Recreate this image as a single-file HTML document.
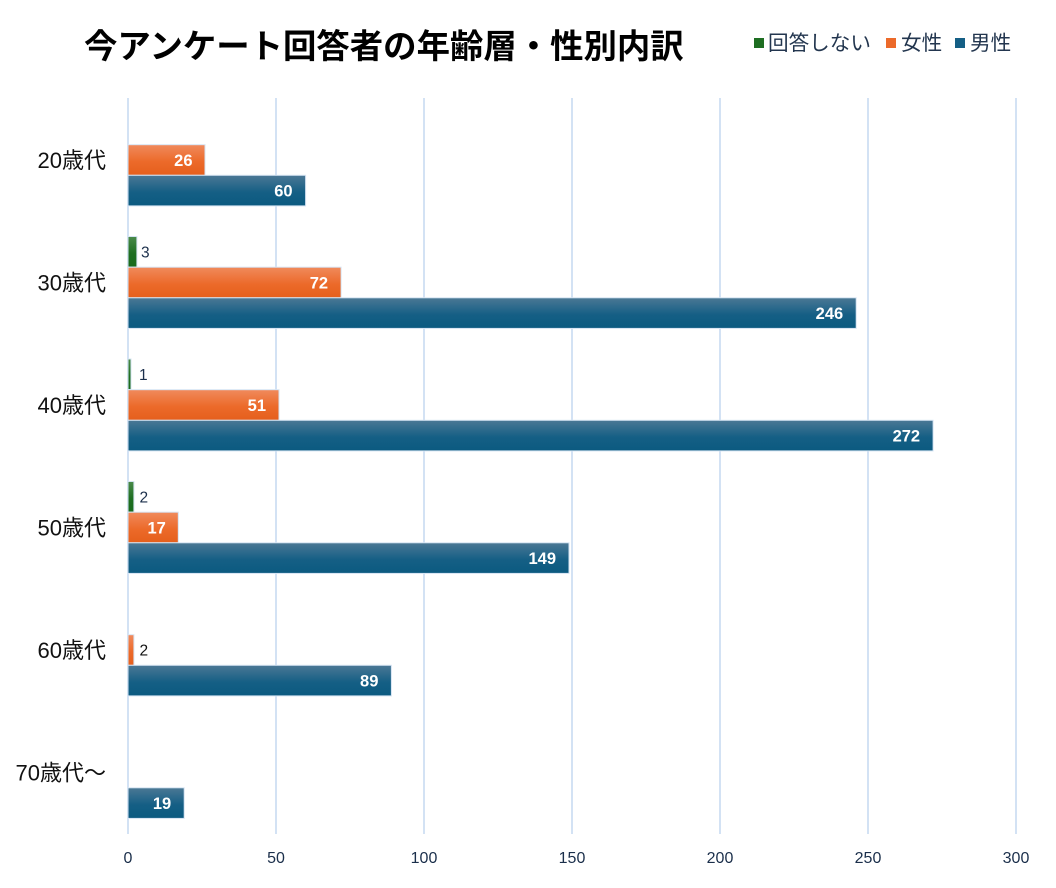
<!DOCTYPE html>
<html>
<head>
<meta charset="utf-8">
<style>
html,body{margin:0;padding:0;background:#fff;}
svg{display:block;}
</style>
</head>
<body>
<svg width="1056" height="888" viewBox="0 0 1056 888" xmlns="http://www.w3.org/2000/svg">
<defs>
<linearGradient id="gO" x1="0" y1="0" x2="0" y2="1">
<stop offset="0" stop-color="#f08a5c"/>
<stop offset="0.55" stop-color="#ec6a2a"/>
<stop offset="1" stop-color="#e55f1c"/>
</linearGradient>
<linearGradient id="gB" x1="0" y1="0" x2="0" y2="1">
<stop offset="0" stop-color="#4b7895"/>
<stop offset="0.55" stop-color="#155f85"/>
<stop offset="1" stop-color="#0b5a80"/>
</linearGradient>
<linearGradient id="gG" x1="0" y1="0" x2="0" y2="1">
<stop offset="0" stop-color="#4a8a4a"/>
<stop offset="0.55" stop-color="#1f6f22"/>
<stop offset="1" stop-color="#186a1c"/>
</linearGradient>
</defs>
<rect width="1056" height="888" fill="#fff"/>

<!-- Title -->
<text x="84" y="58" font-family="'Liberation Sans','Noto Sans CJK JP',sans-serif" font-size="33.4" font-weight="bold" fill="#000">今アンケート回答者の年齢層・性別内訳</text>

<!-- Legend -->
<g font-family="'Liberation Sans','Noto Sans CJK JP',sans-serif" font-size="20.6" fill="#23364f">
<rect x="754" y="38" width="10" height="10" fill="#1e6e22"/>
<text x="768" y="50">回答しない</text>
<rect x="886" y="38" width="10" height="10" fill="#ec6a2a"/>
<text x="901" y="50">女性</text>
<rect x="955" y="38" width="10" height="10" fill="#155f85"/>
<text x="970" y="50">男性</text>
</g>

<!-- Gridlines -->
<g stroke="#d3e2f4" stroke-width="2">
<line x1="128" y1="98" x2="128" y2="834"/>
<line x1="276" y1="98" x2="276" y2="834"/>
<line x1="424" y1="98" x2="424" y2="834"/>
<line x1="572" y1="98" x2="572" y2="834"/>
<line x1="720" y1="98" x2="720" y2="834"/>
<line x1="868" y1="98" x2="868" y2="834"/>
<line x1="1016" y1="98" x2="1016" y2="834"/>
</g>

<!-- Axis tick labels -->
<g font-family="'Liberation Sans',sans-serif" font-size="16" fill="#1b2f4b" text-anchor="middle">
<text x="128" y="863">0</text>
<text x="276" y="863">50</text>
<text x="424" y="863">100</text>
<text x="572" y="863">150</text>
<text x="720" y="863">200</text>
<text x="868" y="863">250</text>
<text x="1016" y="863">300</text>
</g>

<!-- Category labels -->
<g font-family="'Liberation Sans','Noto Sans CJK JP',sans-serif" font-size="22" fill="#111" text-anchor="end">
<text x="106" y="168">20歳代</text>
<text x="106" y="290.5">30歳代</text>
<text x="106" y="413">40歳代</text>
<text x="106" y="535.5">50歳代</text>
<text x="106" y="658">60歳代</text>
<text x="106" y="780.5">70歳代〜</text>
</g>

<!-- Bars -->
<g stroke="#d6e4f3" stroke-width="1">
<!-- 20 -->
<rect x="128" y="144.7" width="77" height="30.6" fill="url(#gO)"/>
<rect x="128" y="175.3" width="177.6" height="30.6" fill="url(#gB)"/>
<!-- 30 -->
<rect x="128" y="236.5" width="8.9" height="30.6" fill="url(#gG)"/>
<rect x="128" y="267.2" width="213.1" height="30.6" fill="url(#gO)"/>
<rect x="128" y="297.8" width="728.2" height="30.6" fill="url(#gB)"/>
<!-- 40 -->
<rect x="128" y="359" width="3" height="30.6" fill="url(#gG)"/>
<rect x="128" y="389.7" width="151" height="30.6" fill="url(#gO)"/>
<rect x="128" y="420.3" width="805.1" height="30.6" fill="url(#gB)"/>
<!-- 50 -->
<rect x="128" y="481.5" width="5.9" height="30.6" fill="url(#gG)"/>
<rect x="128" y="512.2" width="50.3" height="30.6" fill="url(#gO)"/>
<rect x="128" y="542.8" width="441" height="30.6" fill="url(#gB)"/>
<!-- 60 -->
<rect x="128" y="634.7" width="5.9" height="30.6" fill="url(#gO)"/>
<rect x="128" y="665.3" width="263.4" height="30.6" fill="url(#gB)"/>
<!-- 70 -->
<rect x="128" y="787.8" width="56.2" height="30.6" fill="url(#gB)"/>
</g>

<!-- Inside labels -->
<g font-family="'Liberation Sans',sans-serif" font-size="16.5" font-weight="bold" fill="#fff" text-anchor="end">
<text x="192.5" y="166">26</text>
<text x="292.6" y="196.6">60</text>
<text x="328.1" y="288.5">72</text>
<text x="843.2" y="319.1">246</text>
<text x="266" y="411">51</text>
<text x="920.1" y="441.6">272</text>
<text x="165.8" y="533.5">17</text>
<text x="556" y="564.1">149</text>
<text x="378.4" y="686.6">89</text>
<text x="171.2" y="809.1">19</text>
</g>

<!-- Outside labels -->
<g font-family="'Liberation Sans',sans-serif" font-size="15.5" fill="#1b2f4b">
<text x="141" y="257.5">3</text>
<text x="139" y="380">1</text>
<text x="139.5" y="502.5">2</text>
<text x="139.5" y="655.5" fill="#111">2</text>
</g>
</svg>
</body>
</html>
